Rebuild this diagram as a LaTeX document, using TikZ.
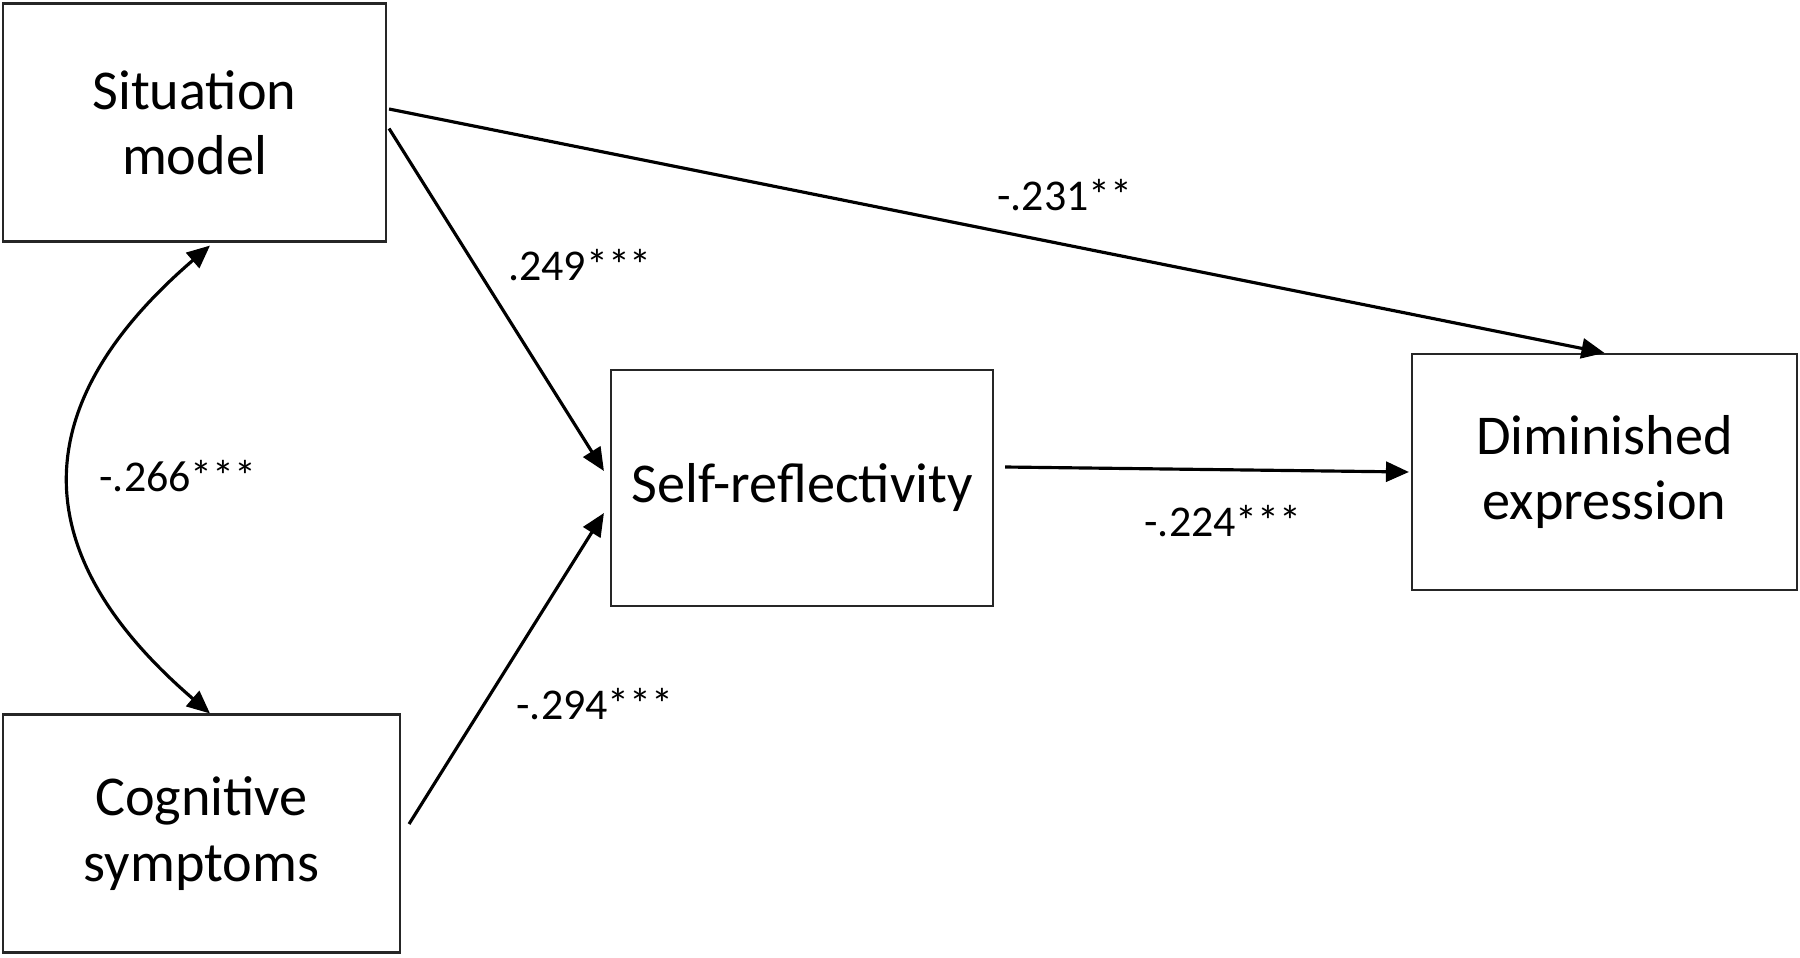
\documentclass[tikz,border=0pt]{standalone}
\usepackage{fontspec}
\setmainfont{Carlito}
\usetikzlibrary{arrows.meta}
\begin{document}
\begin{tikzpicture}[
    var/.style={rectangle, draw=black!85, line width=0.6pt, fill=white,
                minimum width=3.83cm, minimum height=2.38cm, text centered, align=center,
                font=\fontsize{16}{18.6}\selectfont},
    coef/.style={font=\fontsize{12.5}{14}\selectfont},
    link/.style={line width=0.9pt, -{Triangle[length=2.3mm, width=2mm]}}
]
\useasboundingbox (0,0) rectangle (18,9.57);

% Variables
\node[var] (sit) at (1.945,8.345) {Situation\\model};
\node[var, minimum width=3.97cm] (cog) at (2.015,1.235) {Cognitive\\symptoms};
\node[var, minimum width=3.82cm, minimum height=2.36cm] (self) at (8.02,4.69) {Self-reflectivity};
\node[var, minimum width=3.85cm, minimum height=2.36cm] (dim) at (16.045,4.85) {Diminished\\expression};

% Paths
\draw[link] ([xshift=0.2mm,yshift=1.35mm]sit.east) -- (dim.north);
\draw[link] ([xshift=0.2mm,yshift=-0.6mm]sit.east) -- ([xshift=-0.6mm,yshift=1.7mm]self.west);
\draw[link] ([xshift=0.8mm,yshift=0.95mm]cog.east) -- ([xshift=-0.6mm,yshift=-2.5mm]self.west);
\draw[link] ([xshift=1.1mm,yshift=2.1mm]self.east) -- ([xshift=-0.2mm]dim.west);

% Correlation
\draw[link, {Triangle[length=2.3mm, width=2mm]}-{Triangle[length=2.3mm, width=2mm]}]
    ([xshift=1.55mm,yshift=-0.3mm]sit.south) .. controls +(-1.86,-1.6) and +(-1.86,1.6) .. ([xshift=0.85mm]cog.north);

% Coefficients
\node[coef] (c1) at (5.80,6.92) {.249***};
\node[coef] (c2) at (10.65,7.62) {-.231**};
\node[coef] (c3) at (1.78,4.81) {-.266***};
\node[coef] (c4) at (12.23,4.36) {-.224***};
\node[coef] (c5) at (5.95,2.53) {-.294***};

\end{tikzpicture}
\end{document}
